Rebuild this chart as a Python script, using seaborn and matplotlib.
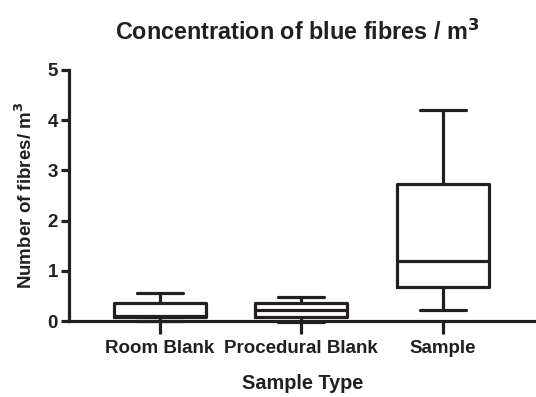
import pandas as pd
import matplotlib.pyplot as plt
import seaborn as sns

# --- Data (min, Q1, median, Q3, max) ---
CATEGORIES = ["Room Blank", "Procedural Blank", "Sample"]
room_blank = [0.0, 0.08, 0.10, 0.36, 0.55]
procedural_blank = [-0.02, 0.08, 0.22, 0.36, 0.47]
sample = [0.22, 0.68, 1.20, 2.72, 4.20]

INK = "#231f20"


def build_frame():
    rows = []
    for name, vals in zip(CATEGORIES, [room_blank, procedural_blank, sample]):
        for v in vals:
            rows.append({"Sample Type": name, "Fibres": v})
    return pd.DataFrame(rows)


def main():
    df = build_frame()
    sns.set_style("ticks")
    plt.rcParams["font.family"] = ["Liberation Sans", "DejaVu Sans"]
    plt.rcParams["font.weight"] = "bold"

    fig = plt.figure(figsize=(5.36, 3.97), dpi=100)
    ax = fig.add_axes([69 / 536, 76 / 397, (536 - 69) / 536, 251 / 397])

    lw = 2.3
    sns.boxplot(
        data=df, x="Sample Type", y="Fibres", order=CATEGORIES,
        whis=(0, 100), width=0.65, fill=False, color=INK, linewidth=lw,
        linecolor=INK, ax=ax,
        medianprops={"color": INK, "linewidth": lw},
    )
    for art in ax.lines + ax.patches:
        art.set_clip_on(False)

    ax.set_ylim(0, 5)
    ax.set_xlim(-0.643, 2.66)
    ax.set_yticks([0, 1, 2, 3, 4, 5])

    for side in ["top", "right"]:
        ax.spines[side].set_visible(False)
    for side in ["left", "bottom"]:
        ax.spines[side].set_linewidth(lw)
        ax.spines[side].set_color(INK)
        ax.spines[side].set_zorder(0)

    ax.tick_params(axis="y", length=6, width=lw, color=INK, labelsize=13.5, pad=2)
    ax.tick_params(axis="x", length=9, width=lw, color=INK, labelsize=13.5, pad=5)
    for lab in ax.get_xticklabels() + ax.get_yticklabels():
        lab.set_fontweight("bold")
        lab.set_color(INK)

    ax.set_xlabel("Sample Type", fontsize=14.3, fontweight="bold", color=INK, labelpad=12)
    ax.set_ylabel("Number of fibres/ m$^\\mathbf{3}$", fontsize=13.5, fontweight="bold",
                  color=INK, labelpad=8)
    fig.suptitle("Concentration of blue fibres / m$^\\mathbf{3}$", x=0.555, y=0.95,
                 fontsize=16.8, fontweight="bold", color=INK)

    fig.savefig("out.png", dpi=100)


if __name__ == "__main__":
    main()
